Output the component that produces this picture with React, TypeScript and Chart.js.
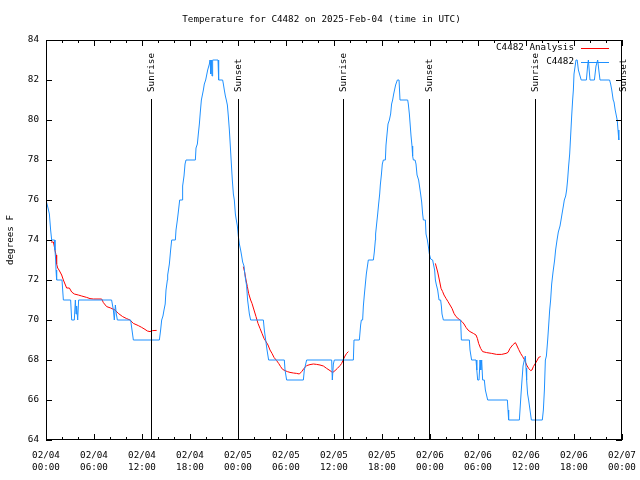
import { useEffect, useRef } from "react";
import { Chart, registerables } from "chart.js";

Chart.register(...registerables);

const FONT = "'DejaVu Sans Mono', 'Liberation Mono', monospace";
const FONT_SIZE = 9.25;
const TITLE = "Temperature for C4482 on 2025-Feb-04 (time in UTC)";
const Y_LABEL = "degrees F";
const X_TICK_DATES = ["02/04", "02/04", "02/04", "02/04", "02/05", "02/05", "02/05", "02/05", "02/06", "02/06", "02/06", "02/06", "02/07"];
const X_TICK_TIMES = ["00:00", "06:00", "12:00", "18:00", "00:00", "06:00", "12:00", "18:00", "00:00", "06:00", "12:00", "18:00", "00:00"];
const X_MIN = 0;
const X_MAX = 72;
const X_MAJOR = 6;
const X_MINOR = 2;
const Y_MIN = 64;
const Y_MAX = 84;
const Y_STEP = 2;

const LEGEND_LABELS = ["C4482 Analysis", "C4482"];
const RED = "#ff0000";
const BLUE = "#1e90ff";

// hours since 02/04 00:00 UTC
const BLUE_HOURS = [
  0, 0.25, 0.42, 0.58, 0.71, 1.08, 1.12, 1.21, 1.25, 1.33, 2.0, 2.17, 3.08, 3.21, 3.54, 3.67, 3.75, 3.83, 3.96, 4.08,
  8.2, 8.42, 8.54, 8.67, 8.79, 8.92, 10.58, 10.92, 14.17, 14.33, 14.46, 14.62, 14.75, 14.9, 15.0, 15.17, 15.21, 15.42,
  15.58, 15.71, 16.17, 16.25, 16.42, 16.54, 16.71, 17.04, 17.08, 17.25, 17.38, 17.5, 18.67, 18.75, 18.92, 19.04, 19.17,
  19.29, 19.42, 19.67, 19.79, 19.96, 20.21, 20.42, 20.5, 20.6, 20.67, 20.75, 20.83, 21.5, 21.58, 22.08, 22.17, 22.29,
  22.42, 22.54, 22.67, 22.79, 22.92, 23.04, 23.17, 23.29, 23.42, 23.54, 23.67, 23.79, 23.92, 24.04, 24.17, 24.33, 24.46,
  24.58, 24.75, 24.88, 25.08, 25.2, 25.42, 25.58, 27.17, 27.29, 27.46, 27.63, 27.83, 29.79, 29.88, 30.08, 32.17, 32.29,
  32.58, 35.71, 35.79, 35.92, 36.04, 38.42, 38.5, 39.17, 39.33, 39.42, 39.58, 39.67, 39.79, 39.92, 40.04, 40.29, 40.92,
  41.04, 41.17, 41.2, 41.33, 41.46, 41.58, 41.71, 41.79, 41.92, 42.04, 42.17, 42.42, 42.5, 42.63, 42.75, 42.92, 43.08,
  43.2, 43.33, 43.46, 43.7, 43.92, 44.13, 44.25, 45.21, 45.29, 45.42, 45.63, 45.75, 45.83, 45.92, 46.13, 46.25, 46.38,
  46.58, 46.83, 46.96, 47.08, 47.17, 47.42, 47.5, 47.67, 47.79, 47.92, 48.08, 48.33, 48.45, 48.58, 48.67, 48.8, 48.96,
  49.13, 49.33, 49.42, 49.5, 49.67, 51.83, 51.92, 52.92, 53.0, 53.2, 53.75, 53.85, 53.96, 54.13, 54.25, 54.35, 54.46,
  54.58, 54.79, 54.92, 55.21, 57.67, 57.75, 57.83, 59.17, 59.25, 59.38, 59.5, 59.63, 59.79, 59.92, 60.0, 60.08, 60.2,
  60.33, 60.5, 60.67, 62.04, 62.17, 62.3, 62.42, 62.55, 62.71, 62.83, 62.96, 63.08, 63.21, 63.38, 63.58, 63.7, 63.88,
  64.04, 64.25, 64.38, 64.5, 64.67, 64.79, 64.96, 65.08, 65.2, 65.33, 65.46, 65.58, 65.71, 65.83, 65.92, 66.0, 66.25,
  66.4, 66.55, 66.9, 67.55, 67.7, 67.8, 67.9, 68.0, 68.55, 68.75, 68.96, 69.1, 69.25, 70.45, 70.58, 70.72, 70.9, 71.0,
  71.15, 71.3, 71.4, 71.5, 71.6,
];
const BLUE_TEMPS = [
  76, 75.6, 75.3, 74.5, 74, 74, 73.5, 73, 72.5, 72, 72, 71, 71, 70, 70, 71, 70.3, 70.7, 70, 71,
  71, 70.5, 70, 70.75, 70.3, 70, 70, 69, 69, 69.5, 70, 70.2, 70.5, 70.8, 71.5, 72, 72.25, 72.8,
  73.5, 74, 74, 74.5, 75, 75.4, 76, 76, 76.7, 77.2, 77.8, 78, 78, 78.6, 78.8, 79.3, 79.8,
  80.4, 81, 81.5, 81.8, 82, 82.5, 82.8, 83, 82.3, 83, 82.2, 83, 83, 82, 82, 81.8, 81.5,
  81.2, 81, 80.75, 80.2, 79.5, 78.7, 77.8, 77, 76.3, 76, 75.3, 75, 74.7, 74.2, 73.8, 73.5, 73.2,
  72.9, 72.7, 72.2, 71.7, 71, 70.3, 70, 70, 69.5, 69, 68.5, 68, 68, 67.5, 67, 67, 67.5,
  68, 68, 67, 67.8, 68, 68, 69, 69, 69.75, 70, 70, 70.7, 71.25, 71.8, 72.3, 73, 73,
  73.4, 74, 74.3, 74.8, 75.3, 75.8, 76.3, 76.75, 77.25, 77.8, 78, 78, 78.75, 79.3, 79.8, 80, 80.3,
  80.8, 81, 81.3, 81.75, 82, 82, 81, 81, 80.8, 80.3, 79.2, 78.7, 78.2, 78, 78, 77.8, 77.25,
  77, 76.3, 75.9, 75.3, 75, 75, 74.3, 74, 73.7, 73.3, 73.05, 73, 72.75, 72.5, 72, 71.75, 71.5,
  71, 71, 70.7, 70.3, 70, 70, 69, 69, 68.5, 68, 68, 67.5, 67, 67, 68, 67.5, 68,
  67, 67, 66.5, 66, 66, 65.5, 65, 65, 65.5, 66.3, 67, 67.7, 68, 68.2, 67.6, 67, 66.3,
  66, 65.5, 65, 65, 65.5, 66.5, 68, 68.2, 69, 69.7, 70.5, 71, 71.8, 72.4, 73, 73.5, 74,
  74.4, 74.7, 75, 75.3, 75.7, 76, 76.2, 76.5, 77, 77.7, 78.3, 79.2, 80.2, 81, 81.5, 82.3, 83,
  83, 82.5, 82, 82, 82.7, 83, 82.5, 82, 82, 82.7, 83, 82.5, 82, 82, 81.8, 81.5, 81, 80.9,
  80.5, 80.2, 80, 79.5, 79,
];

// analysis series; null marks a break between the three runs
const RED_HOURS = [
  0.625, 0.92, 1.0, 1.125, 1.25, 1.33, 1.46, 1.625, 1.96, 2.17, 2.375, 2.58, 2.92, 3.21, 3.54, 4.04, 4.46, 5.08, 5.5,
  5.92, 6.96, 7.17, 7.58, 8.08, 8.625, 9.04, 9.58, 10.08, 10.5, 10.92, 11.54, 11.96, 12.375, 12.67, 13.0, 13.33, 13.83,
  19,
  24.67, 24.83, 25.0, 25.17, 25.33, 25.58, 25.75, 26.0, 26.25, 26.5, 26.75, 27.0, 27.25, 27.5, 27.75, 28.0, 28.25, 28.5,
  28.83, 29.08, 29.33, 29.58, 29.88, 30.17, 30.5, 30.92, 31.33, 31.67, 31.96, 32.25, 32.58, 33.0, 33.42, 33.83, 34.25,
  34.67, 35.08, 35.5, 35.83, 36.13, 36.42, 36.75, 36.96, 37.17, 37.38, 37.58, 37.8,
  43,
  48.67, 48.96, 49.17, 49.38, 49.58, 49.75, 50.0, 50.25, 50.5, 50.75, 51.0, 51.25, 51.5, 51.75, 52.0, 52.25, 52.5, 52.75,
  53.0, 53.42, 53.75, 53.92, 54.08, 54.33, 54.58, 55.08, 55.71, 56.33, 56.96, 57.5, 57.75, 58.0, 58.33, 58.67, 58.83,
  59.08, 59.33, 59.58, 59.83, 60.08, 60.33, 60.58, 60.75, 60.92, 61.17, 61.42, 61.58, 61.83,
];
const RED_TEMPS = [
  73.9, 73.9, 73.75, 73.5, 73.25, 72.8, 72.6, 72.5, 72.25, 72, 71.8, 71.6, 71.6, 71.4, 71.3, 71.25, 71.2, 71.13, 71.07,
  71.05, 71.05, 70.87, 70.67, 70.6, 70.5, 70.33, 70.17, 70.07, 70, 69.83, 69.72, 69.63, 69.53, 69.45, 69.42, 69.47, 69.48,
  null,
  72.67, 72.4, 72, 71.67, 71.33, 71, 70.83, 70.5, 70.17, 69.83, 69.58, 69.33, 69.08, 68.92, 68.75, 68.5, 68.33, 68.13,
  67.97, 67.83, 67.67, 67.53, 67.47, 67.42, 67.38, 67.35, 67.33, 67.3, 67.42, 67.58, 67.72, 67.77, 67.8, 67.78, 67.75,
  67.7, 67.58, 67.47, 67.37, 67.47, 67.58, 67.72, 67.83, 68.03, 68.2, 68.33, 68.42,
  null,
  72.83, 72.4, 72, 71.58, 71.42, 71.25, 71.08, 70.92, 70.75, 70.58, 70.33, 70.17, 70.08, 70.0, 69.92, 69.8, 69.63, 69.5,
  69.42, 69.33, 69.25, 69.08, 68.83, 68.58, 68.42, 68.37, 68.33, 68.28, 68.28, 68.33, 68.38, 68.58, 68.75, 68.87, 68.75,
  68.53, 68.33, 68.17, 68.0, 67.75, 67.58, 67.47, 67.5, 67.67, 67.83, 68.0, 68.13, 68.17,
];

const SUN_LABELS = ["Sunrise", "Sunset", "Sunrise", "Sunset", "Sunrise", "Sunset"];
const SUN_HOURS = [13.16, 23.96, 37.17, 47.92, 61.17, 72.08];

const decorPlugin = {
  id: "gnuplotDecor",
  afterDraw(chart: any) {
    const { ctx } = chart;
    ctx.save();
    ctx.fillStyle = "#000";
    ctx.font = `${FONT_SIZE}px ${FONT}`;
    ctx.textAlign = "center";
    ctx.textBaseline = "middle";
    ctx.fillText(TITLE, 321.5, 20);
    ctx.restore();
  },
  afterDatasetsDraw(chart: any) {
    const { ctx, chartArea, scales } = chart;
    const { left, right, top, bottom } = chartArea;
    const xs = scales.x;
    const ys = scales.y;
    ctx.save();
    ctx.strokeStyle = "#000";
    ctx.fillStyle = "#000";
    ctx.lineWidth = 1;
    ctx.font = `${FONT_SIZE}px ${FONT}`;

    // sunrise / sunset markers
    SUN_HOURS.forEach((h, i) => {
      const px = Math.round(xs.getPixelForValue(h)) + 0.5;
      if (px <= right + 1) {
        ctx.beginPath();
        ctx.moveTo(px, 99);
        ctx.lineTo(px, bottom);
        ctx.stroke();
      }
      ctx.save();
      ctx.translate(px + 0.5, 92);
      ctx.rotate(-Math.PI / 2);
      ctx.textAlign = "left";
      ctx.textBaseline = "middle";
      ctx.fillText(SUN_LABELS[i], 0, 0);
      ctx.restore();
    });

    // border
    ctx.strokeRect(left + 0.5, top + 0.5, right - left - 1, bottom - top - 1);

    // y ticks (inward, both sides)
    for (let v = Y_MIN; v <= Y_MAX; v += Y_STEP) {
      const py = Math.round(ys.getPixelForValue(v)) + 0.5;
      ctx.beginPath();
      ctx.moveTo(left, py);
      ctx.lineTo(left + 6, py);
      ctx.moveTo(right, py);
      ctx.lineTo(right - 6, py);
      ctx.stroke();
    }
    // x ticks (inward, top and bottom)
    for (let h = X_MIN; h <= X_MAX; h += X_MINOR) {
      const px = Math.round(xs.getPixelForValue(h)) + 0.5;
      const len = h % X_MAJOR === 0 ? 6 : 3;
      ctx.beginPath();
      ctx.moveTo(px, bottom);
      ctx.lineTo(px, bottom - len);
      ctx.moveTo(px, top);
      ctx.lineTo(px, top + len);
      ctx.stroke();
    }

    // legend
    const colors = [RED, BLUE];
    LEGEND_LABELS.forEach((label, i) => {
      const ly = 48 + i * 14;
      ctx.fillStyle = "#000";
      ctx.textAlign = "right";
      ctx.textBaseline = "middle";
      ctx.fillText(label, 574, ly);
      ctx.strokeStyle = colors[i];
      ctx.beginPath();
      ctx.moveTo(581, ly + 0.5);
      ctx.lineTo(609, ly + 0.5);
      ctx.stroke();
    });
    ctx.restore();
  },
};

export default function App() {
  const canvasRef = useRef<HTMLCanvasElement | null>(null);

  useEffect(() => {
    const canvas = canvasRef.current;
    if (!canvas) return;
    const blueData = BLUE_HOURS.map((h, i) => ({ x: h, y: BLUE_TEMPS[i] }));
    const redData = RED_HOURS.map((h, i) => ({ x: h, y: RED_TEMPS[i] }));
    const tickFont = { family: FONT, size: FONT_SIZE, lineHeight: 12 / FONT_SIZE, weight: "normal" as const };

    const chart = new Chart(canvas, {
      type: "line",
      data: {
        datasets: [
          {
            label: LEGEND_LABELS[1],
            data: blueData,
            borderColor: BLUE,
            backgroundColor: BLUE,
            borderWidth: 1,
            pointRadius: 0,
            tension: 0,
            fill: false,
          },
          {
            label: LEGEND_LABELS[0],
            data: redData as any,
            borderColor: RED,
            backgroundColor: RED,
            borderWidth: 1,
            pointRadius: 0,
            tension: 0,
            fill: false,
            spanGaps: false,
          },
        ],
      },
      options: {
        responsive: false,
        animation: false,
        devicePixelRatio: 1,
        parsing: false,
        layout: { padding: { left: 0, right: 18, top: 40, bottom: 0 } },
        plugins: {
          legend: { display: false },
          tooltip: { enabled: false },
          title: { display: false },
        },
        scales: {
          x: {
            type: "linear",
            min: X_MIN,
            max: X_MAX,
            grid: { display: false, drawTicks: false },
            border: { display: false },
            ticks: {
              stepSize: X_MAJOR,
              autoSkip: false,
              maxRotation: 0,
              minRotation: 0,
              padding: 10,
              color: "#000",
              font: tickFont,
              callback: (value: any) => {
                const idx = Math.round(Number(value) / X_MAJOR);
                return [X_TICK_DATES[idx], X_TICK_TIMES[idx]];
              },
            },
            afterFit: (scale: any) => {
              scale.height = 40;
              scale.paddingLeft = 0;
              scale.paddingRight = 0;
            },
          },
          y: {
            type: "linear",
            min: Y_MIN,
            max: Y_MAX,
            grid: { display: false, drawTicks: false },
            border: { display: false },
            ticks: {
              stepSize: Y_STEP,
              padding: 7,
              color: "#000",
              font: { family: FONT, size: FONT_SIZE, weight: "normal" },
            },
            title: {
              display: true,
              text: Y_LABEL,
              color: "#000",
              font: { family: FONT, size: FONT_SIZE, lineHeight: 1.2, weight: "normal" },
              padding: { top: 5, bottom: 0 },
            },
            afterFit: (scale: any) => {
              scale.width = 46;
              scale.paddingTop = 0;
              scale.paddingBottom = 0;
            },
          },
        },
      },
      plugins: [decorPlugin],
    });
    return () => chart.destroy();
  }, []);

  return (
    <div style={{ position: "absolute", left: 0, top: 0, width: 640, height: 480, background: "#fff" }}>
      <canvas ref={canvasRef} width={640} height={480} style={{ display: "block", width: 640, height: 480 }} />
    </div>
  );
}
